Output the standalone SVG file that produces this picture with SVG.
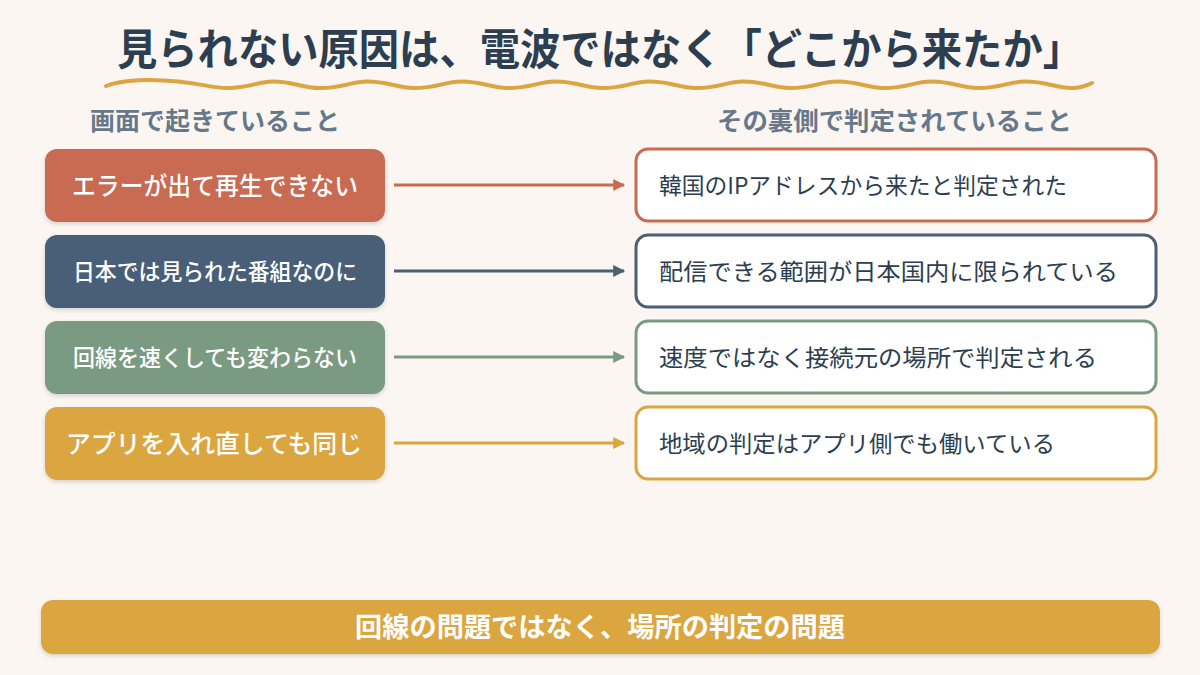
<svg xmlns="http://www.w3.org/2000/svg" width="1200" height="675" viewBox="0 0 1200 675">
<style>
text{font-family:"Noto Sans CJK JP","Noto Sans",sans-serif}
.title{font-size:43px;font-weight:700;fill:#2c3e50}
.sub{font-size:25px;font-weight:700;fill:#66788a}
.lt{font-weight:500;fill:#ffffff}
.rt{font-size:23px;font-weight:400;fill:#2c3e50}
.rbox{fill:#ffffff;stroke-width:3}
.conn{stroke-width:3;fill:none}
</style>
<defs>
<filter id="sh" x="-10%" y="-20%" width="120%" height="150%">
<feDropShadow dx="0" dy="2" stdDeviation="2" flood-color="#000" flood-opacity="0.15"/>
</filter>
<marker id="mR" viewBox="0 0 10 10" refX="9" refY="5" markerWidth="4.5" markerHeight="4" orient="auto" markerUnits="strokeWidth"><path d="M0,0L10,5L0,10z" fill="#c96a52"/></marker>
<marker id="mB" viewBox="0 0 10 10" refX="9" refY="5" markerWidth="4.5" markerHeight="4" orient="auto" markerUnits="strokeWidth"><path d="M0,0L10,5L0,10z" fill="#4a5f78"/></marker>
<marker id="mG" viewBox="0 0 10 10" refX="9" refY="5" markerWidth="4.5" markerHeight="4" orient="auto" markerUnits="strokeWidth"><path d="M0,0L10,5L0,10z" fill="#7a9a82"/></marker>
<marker id="mY" viewBox="0 0 10 10" refX="9" refY="5" markerWidth="4.5" markerHeight="4" orient="auto" markerUnits="strokeWidth"><path d="M0,0L10,5L0,10z" fill="#dba541"/></marker>
</defs>
<rect width="1200" height="675" fill="#fbf6f2"/>

<g id="title">
<text class="title" x="600" y="65" text-anchor="middle" textLength="966" lengthAdjust="spacingAndGlyphs">見られない原因は、電波ではなく「どこから来たか」</text>
<path d="M106,86 C122,79 154,79 178,81.5 C202,84 214,88 227,88 C250,88 258,81.5 272,81.5 C296,81.5 300,88 320,88 C344,88 350,81.5 367,81.5 C390,81.5 396,88 414,88 C438,88 444,81.5 461,81.5 C484,81.5 490,88 508,88 C532,88 538,81.5 555,81.5 C578,81.5 584,88 602,88 C626,88 632,81.5 649,81.5 C672,81.5 678,88 696,88 C720,88 726,81.5 743,81.5 C766,81.5 772,88 790,88 C814,88 820,81.5 837,81.5 C860,81.5 866,88 884,88 C908,88 914,81.5 931,81.5 C954,81.5 960,88 978,88 C1002,88 1008,81.5 1025,81.5 C1048,81.5 1054,88 1072,88 C1082,88 1088,85 1092,83" fill="none" stroke="#dba541" stroke-width="4" stroke-linecap="round"/>
</g>

<g id="subtitles">
<text class="sub" x="90" y="130" textLength="250" lengthAdjust="spacingAndGlyphs">画面で起きていること</text>
<text class="sub" x="717" y="130" textLength="355" lengthAdjust="spacingAndGlyphs">その裏側で判定されていること</text>
</g>

<g id="left1"><rect x="45" y="149" width="340" height="73" rx="12" fill="#c96a52" filter="url(#sh)"/><text class="lt" x="72" y="195" font-size="25" textLength="286" lengthAdjust="spacingAndGlyphs">エラーが出て再生できない</text></g>
<g id="left2"><rect x="45" y="235" width="340" height="73" rx="12" fill="#4a5f78" filter="url(#sh)"/><text class="lt" x="73" y="280" font-size="22.5" textLength="284" lengthAdjust="spacingAndGlyphs">日本では見られた番組なのに</text></g>
<g id="left3"><rect x="45" y="321" width="340" height="73" rx="12" fill="#7a9a82" filter="url(#sh)"/><text class="lt" x="73" y="366" font-size="22.5" textLength="284" lengthAdjust="spacingAndGlyphs">回線を速くしても変わらない</text></g>
<g id="left4"><rect x="45" y="407" width="340" height="73" rx="12" fill="#dba541" filter="url(#sh)"/><text class="lt" x="66" y="453" font-size="25.5" textLength="296" lengthAdjust="spacingAndGlyphs">アプリを入れ直しても同じ</text></g>

<g id="right1"><rect class="rbox" x="636" y="149" width="520" height="72" rx="12" stroke="#c96a52"/><text class="rt" x="659" y="194" textLength="408" lengthAdjust="spacingAndGlyphs">韓国のIPアドレスから来たと判定された</text></g>
<g id="right2"><rect class="rbox" x="636" y="235" width="520" height="72" rx="12" stroke="#4a5f78"/><text class="rt" x="659" y="280" textLength="459" lengthAdjust="spacingAndGlyphs">配信できる範囲が日本国内に限られている</text></g>
<g id="right3"><rect class="rbox" x="636" y="321" width="520" height="72" rx="12" stroke="#7a9a82"/><text class="rt" x="659" y="366" textLength="438" lengthAdjust="spacingAndGlyphs">速度ではなく接続元の場所で判定される</text></g>
<g id="right4"><rect class="rbox" x="636" y="407" width="520" height="72" rx="12" stroke="#dba541"/><text class="rt" x="659" y="452" textLength="396" lengthAdjust="spacingAndGlyphs">地域の判定はアプリ側でも働いている</text></g>

<g id="connectors">
<line class="conn" x1="394" y1="185" x2="624" y2="185" stroke="#c96a52" marker-end="url(#mR)"/>
<line class="conn" x1="394" y1="271" x2="624" y2="271" stroke="#4a5f78" marker-end="url(#mB)"/>
<line class="conn" x1="394" y1="357" x2="624" y2="357" stroke="#7a9a82" marker-end="url(#mG)"/>
<line class="conn" x1="394" y1="443" x2="624" y2="443" stroke="#dba541" marker-end="url(#mY)"/>
</g>

<g id="summary">
<rect x="41" y="600" width="1119" height="54" rx="12" fill="#dba541" filter="url(#sh)"/>
<text x="355" y="637" font-size="27" font-weight="700" fill="#ffffff" textLength="490" lengthAdjust="spacingAndGlyphs">回線の問題ではなく、場所の判定の問題</text>
</g>
</svg>
